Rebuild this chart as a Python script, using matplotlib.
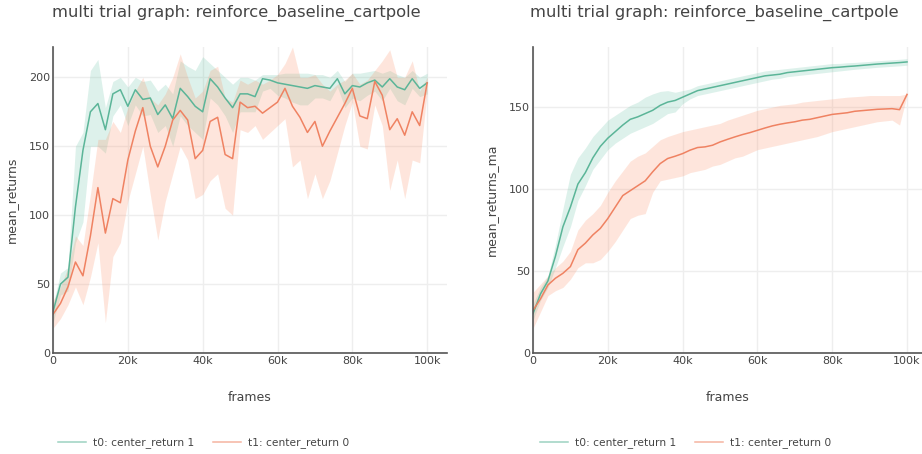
import matplotlib
matplotlib.use("Agg")
import matplotlib.pyplot as plt

plt.rcParams['font.family'] = ['DejaVu Sans']

# frames sampled every 2k
frames = list(range(0, 100001, 2000))

# ---- mean_returns ----
t0_mean = [30, 50, 55, 106, 147, 175, 181, 162, 188, 191, 179, 191, 184, 185, 173, 180,
           170, 192, 186, 179, 175, 199, 193, 185, 178, 188, 188, 186, 199, 198, 196, 195,
           194, 193, 192, 194, 193, 192, 199, 188, 194, 193, 196, 198, 193, 199, 193, 191,
           199, 192, 196]
t0_lo = [22, 42, 45, 80, 95, 150, 150, 145, 172, 180, 165, 180, 172, 173, 160, 165,
         150, 172, 165, 160, 155, 185, 180, 172, 160, 175, 175, 175, 190, 192, 187, 185,
         182, 180, 180, 185, 185, 183, 193, 178, 185, 183, 187, 190, 183, 192, 183, 180,
         192, 186, 188]
t0_hi = [35, 58, 62, 150, 160, 205, 213, 178, 197, 200, 193, 200, 197, 198, 190, 195,
         188, 212, 208, 205, 215, 210, 205, 200, 195, 200, 200, 198, 202, 202, 202, 203,
         203, 203, 203, 202, 202, 200, 205, 197, 203, 203, 204, 205, 203, 205, 202, 200,
         205, 200, 203]

t1_mean = [28, 36, 48, 66, 56, 85, 120, 87, 112, 109, 140, 161, 178, 150, 135, 150,
           169, 176, 169, 141, 147, 168, 171, 144, 141, 182, 178, 179, 174, 178, 182, 192,
           179, 171, 160, 168, 150, 161, 171, 181, 192, 172, 170, 197, 187, 162, 170, 158,
           175, 165, 196]
t1_lo = [18, 25, 35, 48, 35, 55, 80, 22, 70, 80, 110, 130, 150, 115, 82, 110,
         130, 150, 140, 112, 115, 125, 130, 105, 100, 162, 160, 165, 155, 160, 165, 170,
         135, 140, 112, 130, 112, 125, 145, 165, 182, 150, 148, 180, 165, 118, 140, 112,
         140, 138, 190]
t1_hi = [38, 48, 62, 85, 78, 115, 155, 155, 168, 160, 178, 190, 200, 185, 180, 188,
         200, 217, 200, 185, 190, 205, 208, 185, 182, 198, 195, 198, 195, 198, 202, 210,
         222, 200, 200, 202, 195, 190, 195, 198, 203, 195, 198, 205, 212, 220, 200, 200,
         212, 190, 200]

# ---- mean_returns_ma ----
t0_ma = [24, 36, 44, 59, 77, 89, 103, 110, 119, 126, 131, 135, 139, 142.5, 144, 146,
         148, 151, 153, 154, 156, 158, 160, 161, 162, 163, 164, 165, 166, 167, 168, 169,
         169.5, 170, 171, 171.5, 172, 172.5, 173, 173.5, 174, 174.3, 174.7, 175, 175.4,
         175.8, 176.2, 176.5, 176.8, 177.1, 177.5]
t0_ma_lo = [20, 32, 40, 52, 65, 77, 93, 102, 112, 118, 124, 128, 131, 134, 136, 138,
            140, 143, 146, 147, 152, 155, 157, 158, 159, 160, 161, 162, 163, 164, 165, 166,
            167, 167.5, 168.5, 169, 169.5, 170, 170.5, 171, 171.5, 172, 172.5, 173, 173.4,
            173.8, 174.2, 174.5, 174.8, 175.1, 175.5]
t0_ma_hi = [30, 40, 47, 66, 88, 109, 119, 125, 132, 137, 142, 145, 148, 151, 153, 156,
            158, 159.5, 160, 159, 160, 161, 163, 164, 165, 166, 167, 168, 169, 170, 171, 172,
            172.5, 173, 173.5, 174, 174.5, 175, 175.5, 176, 176.5, 176.6, 177, 177.2, 177.5,
            177.8, 178.2, 178.5, 178.8, 179.1, 179.5]

t1_ma = [26, 33, 41.5, 45.6, 48.6, 52.7, 63, 67, 72, 76, 82, 89, 96, 99, 102, 105,
         110.5, 115.5, 118.6, 120, 121.6, 123.7, 125.3, 125.7, 126.7, 128.7, 130.3, 131.8,
         133.2, 134.4, 135.8, 137.2, 138.5, 139.5, 140.3, 141, 142, 142.5, 143.5, 144.5,
         145.5, 146, 146.5, 147.4, 147.8, 148.2, 148.6, 148.8, 149, 148.4, 157.7]
t1_ma_lo = [15, 25, 35, 38, 40, 45, 52, 55, 55, 57, 62, 68, 75, 82, 84, 85,
            98, 105, 106, 107, 108, 110, 111, 112, 114, 115, 117, 119, 120, 122, 124, 125,
            126, 127, 128, 129, 130, 131, 132, 133.5, 135, 136, 137, 138, 139, 140, 141,
            141.5, 142, 139, 157]
t1_ma_hi = [37, 42, 47, 52, 56, 62, 75, 81, 85, 90, 98, 105, 111, 117, 120, 122,
            126, 130, 132, 133.5, 135, 136, 137, 138, 139, 140, 142, 143.5, 145, 146.5,
            148, 149, 150, 151, 151.5, 152, 153, 153.5, 154, 154.5, 155, 155.5, 156, 156.3,
            156.6, 157, 157, 157, 157, 157, 158]

series_labels = ["t0: center_return 1", "t1: center_return 0"]
title = "multi trial graph: reinforce_baseline_cartpole"
xticks = [0, 20000, 40000, 60000, 80000, 100000]
xtick_labels = ["0", "20k", "40k", "60k", "80k", "100k"]

GREEN = "#66c2a5"
ORANGE = "#fc8d62"
GREEN_LINE = "#5bb598"
ORANGE_LINE = "#ef8262"
TEXT = "#444444"

W, H = 922, 454
fig = plt.figure(figsize=(W / 100, H / 100), dpi=100)
ax1 = fig.add_axes([53 / W, 101 / H, 394 / W, 306 / H])
ax2 = fig.add_axes([533 / W, 101 / H, 389 / W, 306 / H])


def style(ax, ylabel, ymax, yticks, xmax):
    ax.set_xlim(0, xmax)
    ax.set_ylim(0, ymax)
    ax.set_xticks(xticks)
    ax.set_xticklabels(xtick_labels)
    ax.set_yticks(yticks)
    ax.grid(True, color="#eeeeee", linewidth=1)
    ax.set_axisbelow(True)
    for s in ("top", "right"):
        ax.spines[s].set_visible(False)
    for s in ("left", "bottom"):
        ax.spines[s].set_color("#555555")
        ax.spines[s].set_linewidth(1.2)
    ax.tick_params(length=0, labelsize=8, colors=TEXT, pad=2)
    ax.set_ylabel(ylabel, fontsize=9, color=TEXT, labelpad=8)
    ax.set_xlabel("frames", fontsize=9, color=TEXT, labelpad=18)


def draw(ax, data):
    handles = []
    for (m, lo, hi), fc, lc, lab in zip(data, (GREEN, ORANGE), (GREEN_LINE, ORANGE_LINE), series_labels):
        ax.fill_between(frames, lo, hi, color=fc, alpha=0.22, linewidth=0)
        h, = ax.plot(frames, m, color=lc, linewidth=1.1, label=lab)
        handles.append(h)
    return handles


h1 = draw(ax1, [(t0_mean, t0_lo, t0_hi), (t1_mean, t1_lo, t1_hi)])
style(ax1, "mean_returns", 222, [0, 50, 100, 150, 200], 105300)
h2 = draw(ax2, [(t0_ma, t0_ma_lo, t0_ma_hi), (t1_ma, t1_ma_lo, t1_ma_hi)])
style(ax2, "mean_returns_ma", 186.6, [0, 50, 100, 150], 104000)

fig.text(236 / W, 1 - 13 / H, title, ha="center", va="center", fontsize=11.8, color=TEXT)
fig.text(714 / W, 1 - 13 / H, title, ha="center", va="center", fontsize=11.8, color=TEXT)

for handles, x0 in ((h1, 58), (h2, 540)):
    leg = fig.legend(handles=handles, loc="center left", bbox_to_anchor=(x0 / W, 1 - 443 / H),
                     ncol=2, frameon=False, fontsize=7.7, handlelength=2.6, handletextpad=0.65,
                     columnspacing=1.8, borderpad=0, borderaxespad=0, labelcolor=TEXT)
    for line in leg.get_lines():
        line.set_alpha(0.6)

fig.savefig("out.png", dpi=100, facecolor="white")
